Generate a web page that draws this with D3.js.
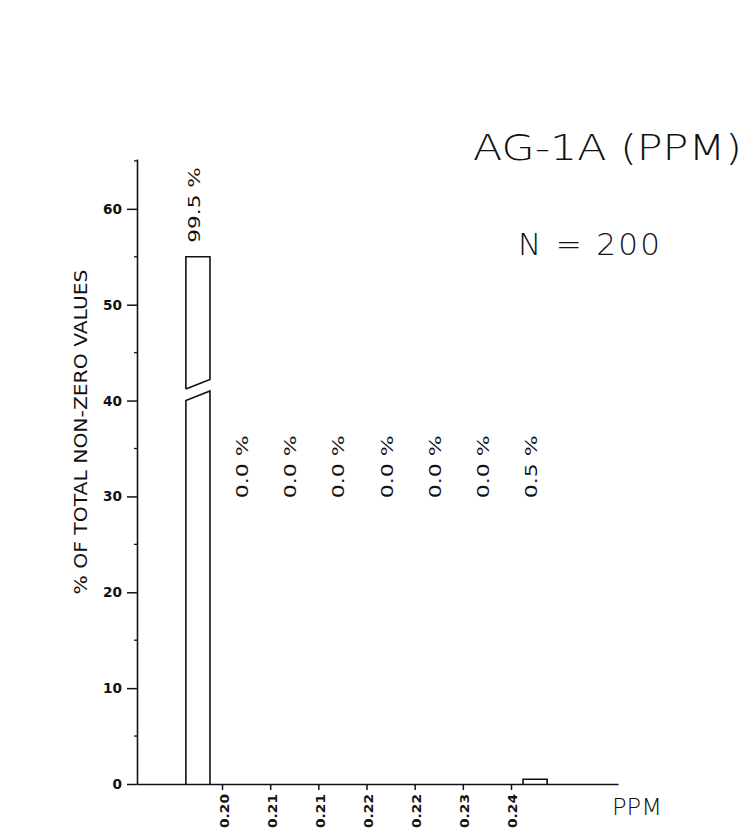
<!DOCTYPE html>
<html>
<head>
<meta charset="utf-8">
<script src="https://cdn.jsdelivr.net/npm/d3@7"></script>
<style>
  html, body { margin: 0; padding: 0; background: #fff; }
  svg { display: block; }
  text { fill: #111; }
</style>
</head>
<body>
<svg id="chart" width="751" height="835"></svg>
<script>
// ---- data ----
const binStart = [0.194, 0.200, 0.206, 0.212, 0.218, 0.224, 0.230, 0.236];
const binEnd   = [0.200, 0.206, 0.212, 0.218, 0.224, 0.230, 0.236, 0.242];
const percent  = [99.5, 0.0, 0.0, 0.0, 0.0, 0.0, 0.0, 0.5];
const percentLabels = ["99.5 %", "0.0 %", "0.0 %", "0.0 %", "0.0 %", "0.0 %", "0.0 %", "0.5 %"];
const xTickValues = [0.200, 0.206, 0.212, 0.218, 0.224, 0.230, 0.236];
const xTickLabels = ["0.20", "0.21", "0.21", "0.22", "0.22", "0.23", "0.24"];
const yTickValues = [0, 10, 20, 30, 40, 50, 60];
const yMinorTicks = [5, 15, 25, 35, 45, 55, 65];
const barCap = 55;            // displayed height of the broken (off-scale) bar
const breakLow = 40;          // lower piece top (left side)
const breakHigh = 41.2;       // upper piece bottom (left side)
const breakSlope = 1;         // rise across the bar width
const title = "AG-1A (PPM)";
const nLabel = "N = 200";
const yLabel = "% OF TOTAL NON-ZERO VALUES";
const xLabel = "PPM";

// ---- scales ----
const svg = d3.select("#chart");
const x = d3.scaleLinear().domain([0.18941, 0.24933]).range([137, 618]);
const y = d3.scaleLinear().domain([0, 65.2]).range([784, 159]);

const ink = "#111";
const g = svg.append("g");

// ---- y axis ----
const yAxis = d3.axisLeft(y).tickValues(yTickValues).tickSize(10).tickSizeOuter(0).tickPadding(5)
  .tickFormat(d3.format("d"));
const ya = g.append("g").attr("transform", `translate(${x.range()[0]},0)`).call(yAxis);
ya.select(".domain").attr("stroke", ink).attr("stroke-width", 1.6);
ya.selectAll(".tick line").attr("stroke", ink).attr("stroke-width", 1.5);
ya.selectAll(".tick text").attr("font-family", "DejaVu Sans, sans-serif")
  .attr("font-size", 14).attr("font-weight", "bold").attr("fill", ink)
  .attr("textLength", d => String(d).length * 9.5).attr("lengthAdjust", "spacingAndGlyphs");
g.append("g").selectAll("line").data(yMinorTicks.filter(v => v <= y.domain()[1]))
  .join("line")
  .attr("x1", x.range()[0] - 3).attr("x2", x.range()[0] + 1)
  .attr("y1", d => y(d)).attr("y2", d => y(d))
  .attr("stroke", ink).attr("stroke-width", 1.3);

// ---- x axis ----
const xAxis = d3.axisBottom(x).tickValues(xTickValues).tickSize(6).tickSizeOuter(0)
  .tickFormat((d, i) => xTickLabels[i]);
const xa = g.append("g").attr("transform", `translate(0,${y(0)})`).call(xAxis);
xa.select(".domain").attr("stroke", ink).attr("stroke-width", 1.6);
xa.selectAll(".tick line").attr("stroke", ink).attr("stroke-width", 1.5);
xa.selectAll(".tick text")
  .attr("font-family", "DejaVu Sans, sans-serif").attr("font-size", 12)
  .attr("font-weight", "bold").attr("fill", ink)
  .attr("text-anchor", "start").attr("dy", null).attr("y", 0)
  .attr("dominant-baseline", "central")
  .attr("transform", "translate(2,44) rotate(-90)")
  .attr("textLength", 34).attr("lengthAdjust", "spacingAndGlyphs");

// ---- bars ----
const bars = binStart.map((s, i) => {
  const w = binEnd[i] - s;
  return { x0: s + w / 4, x1: s + 3 * w / 4, v: percent[i], label: percentLabels[i], c: (s + binEnd[i]) / 2 };
});
const barG = g.append("g").attr("fill", "none").attr("stroke", ink).attr("stroke-width", 1.6);
bars.forEach(b => {
  if (b.v > barCap) {
    // broken bar: lower piece
    barG.append("path").attr("d", d3.line()([
      [x(b.x0), y(0)], [x(b.x0), y(breakLow)], [x(b.x1), y(breakLow + breakSlope)], [x(b.x1), y(0)]
    ]));
    // upper piece
    barG.append("path").attr("d", d3.line()([
      [x(b.x0), y(breakHigh)], [x(b.x0), y(barCap)], [x(b.x1), y(barCap)],
      [x(b.x1), y(breakHigh + breakSlope)], [x(b.x0), y(breakHigh)]
    ]));
  } else if (b.v > 0) {
    barG.append("path").attr("d", d3.line()([
      [x(b.x0), y(0)], [x(b.x0), y(b.v)], [x(b.x1), y(b.v)], [x(b.x1), y(0)]
    ]));
  }
});

// ---- bar labels (rotated) ----
g.append("g").selectAll("text").data(bars).join("text")
  .attr("transform", d => `translate(${x(d.c) - 3},${d.v > barCap ? y(barCap) - 14 : y(29.8)}) rotate(-90)`)
  .attr("text-anchor", "start").attr("dominant-baseline", "central")
  .attr("font-family", "DejaVu Sans, sans-serif").attr("font-size", 15)
  .attr("textLength", d => d.label.length * 12.6).attr("lengthAdjust", "spacingAndGlyphs")
  .text(d => d.label);

// ---- titles ----
g.append("text").attr("x", 473).attr("y", 160)
  .attr("font-family", "DejaVu Sans, sans-serif").attr("font-weight", 200).attr("font-size", 36)
  .attr("textLength", 269).attr("lengthAdjust", "spacingAndGlyphs").text(title);
g.append("text").attr("x", 518).attr("y", 255)
  .attr("font-family", "DejaVu Sans, sans-serif").attr("font-weight", 200).attr("font-size", 31)
  .attr("textLength", 142).attr("lengthAdjust", "spacing").text(nLabel);
g.append("text").attr("x", 612).attr("y", 815)
  .attr("font-family", "DejaVu Sans, sans-serif").attr("font-weight", 200).attr("font-size", 23)
  .attr("textLength", 50).attr("lengthAdjust", "spacingAndGlyphs").text(xLabel);
g.append("text")
  .attr("transform", "translate(80,432) rotate(-90)")
  .attr("text-anchor", "middle").attr("dominant-baseline", "central")
  .attr("font-family", "DejaVu Sans, sans-serif").attr("font-size", 18)
  .attr("textLength", 325).attr("lengthAdjust", "spacingAndGlyphs").text(yLabel);
</script>
</body>
</html>
